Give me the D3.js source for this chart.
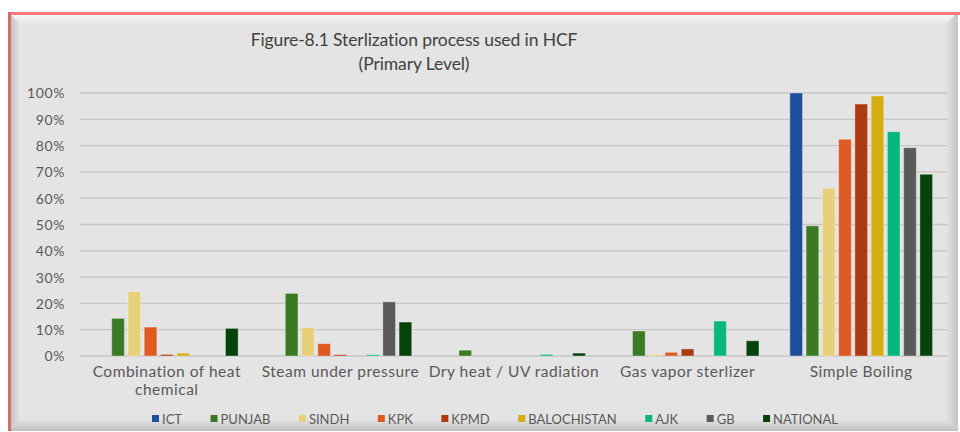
<!DOCTYPE html>
<html><head><meta charset="utf-8">
<script src="https://cdn.jsdelivr.net/npm/d3@7"></script>
<style>html,body{margin:0;padding:0;background:#fff;}svg{display:block;}</style>
</head><body>
<svg id="c" width="960" height="432"></svg>
<script>
const categories = ["Combination of heat chemical","Steam under pressure","Dry heat / UV radiation","Gas vapor sterlizer","Simple Boiling"];
const categoryLines = [["Combination of heat","chemical"],["Steam under pressure"],["Dry heat / UV radiation"],["Gas vapor sterlizer"],["Simple Boiling"]];
const seriesNames = ["ICT","PUNJAB","SINDH","KPK","KPMD","BALOCHISTAN","AJK","GB","NATIONAL"];
const seriesColors = ["#1f4e9a","#3a7a23","#e6d07a","#dd5a22","#ae3a12","#d6ad12","#07b87a","#5a5a5a","#06420b"];
const ICT         = [0,     0,     0,     0,     1.00];
const PUNJAB      = [0.143, 0.238, 0.022, 0.095, 0.495];
const SINDH       = [0.245, 0.108, 0,     0.006, 0.638];
const KPK         = [0.110, 0.047, 0,     0.014, 0.824];
const KPMD        = [0.006, 0.005, 0,     0.027, 0.958];
const BALOCHISTAN = [0.011, 0,     0,     0,     0.989];
const AJK         = [0,     0.005, 0.006, 0.133, 0.853];
const GB          = [0,     0.206, 0,     0,     0.792];
const NATIONAL    = [0.105, 0.129, 0.011, 0.058, 0.691];
const seriesValues = [ICT,PUNJAB,SINDH,KPK,KPMD,BALOCHISTAN,AJK,GB,NATIONAL];
const yTicks = [0,0.1,0.2,0.3,0.4,0.5,0.6,0.7,0.8,0.9,1.0];
const titleLines = ["Figure-8.1 Sterlization process used in HCF","(Primary Level)"];

const svg = d3.select("#c");
const font = "Lato, 'Open Sans', sans-serif";

// frame
const defs = svg.append("defs");
function lg(id, x1,y1,x2,y2, stops){
  const g = defs.append("linearGradient").attr("id",id).attr("x1",x1).attr("y1",y1).attr("x2",x2).attr("y2",y2);
  stops.forEach(s=>g.append("stop").attr("offset",s[0]).attr("stop-color",s[1]));
}
lg("gl",0,0,1,0,[[0,"#b9b9b9"],[1,"#e4e4e4"]]);
lg("gt",0,0,0,1,[[0,"#fbfbfb"],[1,"#e6e6e6"]]);
lg("gr",0,0,1,0,[[0,"#e4e4e4"],[1,"#c4c4c4"]]);
lg("gb",0,0,0,1,[[0,"#e4e4e4"],[1,"#c0c0c0"]]);
const L=8,T=12,R=958,B=431,bv=12;
svg.append("rect").attr("x",L).attr("y",T).attr("width",R-L).attr("height",B-T).attr("fill","#e4e4e4");
svg.append("path").attr("d",`M${L},${T}L${R},${T}L${R-bv},${T+bv}L${L+bv},${T+bv}Z`).attr("fill","url(#gt)");
svg.append("path").attr("d",`M${L},${T}L${L+bv},${T+bv}L${L+bv},${B-bv}L${L},${B}Z`).attr("fill","url(#gl)");
svg.append("path").attr("d",`M${R},${T}L${R},${B}L${R-bv},${B-bv}L${R-bv},${T+bv}Z`).attr("fill","url(#gr)");
svg.append("path").attr("d",`M${L},${B}L${R},${B}L${R-bv},${B-bv}L${L+bv},${B-bv}Z`).attr("fill","url(#gb)");
svg.append("rect").attr("x",L).attr("y",T).attr("width",960-L).attr("height",3).attr("fill","#f27c7c");
svg.append("rect").attr("x",L).attr("y",T).attr("width",3).attr("height",B-T).attr("fill","#d76a6c");

// scales
const x0 = d3.scaleBand().domain(categories).range([80,948]).padding(0);
const x1 = d3.scaleBand().domain(seriesNames).range([0,x0.bandwidth()]).paddingInner(0.22).paddingOuter(0.95);
const y = d3.scaleLinear().domain([0,1]).range([356,93]);

// grid
const grid = svg.append("g");
grid.selectAll("line").data(yTicks).join("line")
  .attr("x1",80).attr("x2",948)
  .attr("y1",d=>y(d)).attr("y2",d=>y(d))
  .attr("stroke","#c6c6c6").attr("stroke-width",1.3);

// y axis labels
const yAxis = d3.axisLeft(y).tickValues(yTicks).tickFormat(d3.format(".0%")).tickSize(0).tickPadding(0);
const ya = svg.append("g").attr("transform","translate(65,0)").call(yAxis);
ya.select(".domain").remove();
ya.selectAll("text").attr("fill","#595959").attr("font-family",font).attr("font-size",14)
  .attr("letter-spacing",0.6).attr("dy","0.35em");

// bars
const groups = svg.append("g").selectAll("g").data(categories).join("g")
  .attr("transform",d=>`translate(${x0(d)},0)`);
groups.selectAll("rect").data((c,ci)=>seriesNames.map((s,si)=>({s,si,v:seriesValues[si][ci]})).filter(d=>d.v>0))
  .join("rect")
  .attr("x",d=>x1(d.s)).attr("width",x1.bandwidth())
  .attr("y",d=>y(d.v)).attr("height",d=>y(0)-y(d.v))
  .attr("fill",d=>seriesColors[d.si])
  .attr("stroke","rgba(255,255,255,0.35)").attr("stroke-width",1);

// x labels
const xl = svg.append("g");
categories.forEach((c,i)=>{
  const t = xl.append("text").attr("x",x0(c)+x0.bandwidth()/2).attr("y",377)
    .attr("text-anchor","middle").attr("fill","#595959").attr("font-family",font).attr("font-size",15.5)
    .attr("letter-spacing",0.5);
  categoryLines[i].forEach((ln,j)=>t.append("tspan").attr("x",x0(c)+x0.bandwidth()/2).attr("dy",j?18:0).text(ln));
});

// title
titleLines.forEach((t,i)=>{
  svg.append("text").attr("x",414).attr("y",46+i*24).attr("text-anchor","middle")
    .attr("fill","#404040").attr("font-family",font).attr("font-size",17.5).attr("letter-spacing",-0.1).text(t);
});

// legend
const leg = svg.append("g");
const legItems = leg.selectAll("g").data(seriesNames).join("g");
legItems.append("rect").attr("width",7).attr("height",7).attr("y",-4).attr("fill",(d,i)=>seriesColors[i]);
legItems.append("text").attr("x",10).attr("dy","0.35em").attr("fill","#595959")
  .attr("font-family",font).attr("font-size",13).text(d=>d);
let widths = [];
legItems.each(function(){ widths.push(10 + d3.select(this).select("text").node().getComputedTextLength()); });
const totalText = d3.sum(widths);
const gap = (838-152 - totalText)/(seriesNames.length-1);
let cx = 152;
legItems.attr("transform",(d,i)=>{ const t=`translate(${cx},419)`; cx += widths[i]+gap; return t; });
</script>
</body></html>
